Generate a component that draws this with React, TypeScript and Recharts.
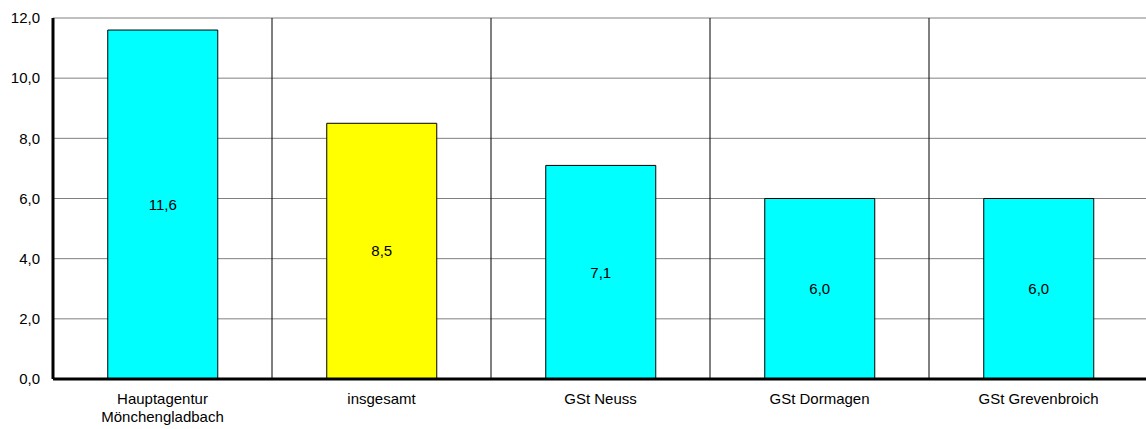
import React from 'react';
import { BarChart, Bar, XAxis, YAxis, CartesianGrid, Cell, LabelList } from 'recharts';

const categories = ['Hauptagentur\nMönchengladbach', 'insgesamt', 'GSt Neuss', 'GSt Dormagen', 'GSt Grevenbroich'];
const values = [11.6, 8.5, 7.1, 6.0, 6.0];
const colors = ['#00FFFF', '#FFFF00', '#00FFFF', '#00FFFF', '#00FFFF'];
const yTicks = [0, 2, 4, 6, 8, 10, 12];

const data = categories.map((name, i) => ({ name, value: values[i], color: colors[i] }));

const fmt = (v: any) => Number(v).toFixed(1).replace('.', ',');
const FONT = '"Liberation Sans", Arial, sans-serif';
const FS = 15;

const XTick = (props: any) => {
  const { x, payload } = props;
  const lines = String(payload.value).split('\n');
  return (
    <text x={x} y={404} textAnchor="middle" fontFamily={FONT} fontSize={FS} fill="#000">
      {lines.map((l, i) => (
        <tspan key={i} x={x} dy={i === 0 ? 0 : 18}>{l}</tspan>
      ))}
    </text>
  );
};

export default function App() {
  return (
    <div style={{ position: 'fixed', left: 0, top: 0, width: 1146, height: 429, overflow: 'hidden', background: '#fff' }}>
      <BarChart width={1148} height={429} data={data} margin={{ top: 18, right: 0, bottom: 0, left: 0 }} barCategoryGap="25%">
        <CartesianGrid horizontal={true} vertical={false} stroke="#808080" strokeWidth={1} />
        <CartesianGrid
          horizontal={false}
          vertical={true}
          stroke="#000"
          strokeWidth={1}
          verticalCoordinatesGenerator={({ offset }: any) =>
            categories.map((_, i) => offset.left + ((i + 1) * offset.width) / categories.length)
          }
        />
        <XAxis
          dataKey="name"
          height={50}
          tickLine={false}
          axisLine={{ stroke: '#000', strokeWidth: 3 }}
          tick={<XTick />}
          interval={0}
        />
        <YAxis
          width={53}
          domain={[0, 12]}
          ticks={yTicks}
          tickFormatter={fmt}
          tickLine={false}
          tickSize={8}
          tickMargin={5}
          axisLine={{ stroke: '#000', strokeWidth: 3 }}
          tick={{ fontFamily: FONT, fontSize: FS, fill: '#000' }}
        />
        <Bar dataKey="value" stroke="#000" strokeWidth={1} isAnimationActive={false}>
          {data.map((d, i) => (
            <Cell key={i} fill={d.color} />
          ))}
          <LabelList dataKey="value" position="center" formatter={fmt} style={{ fontFamily: FONT, fontSize: FS, fill: '#000' }} />
        </Bar>
      </BarChart>
    </div>
  );
}
